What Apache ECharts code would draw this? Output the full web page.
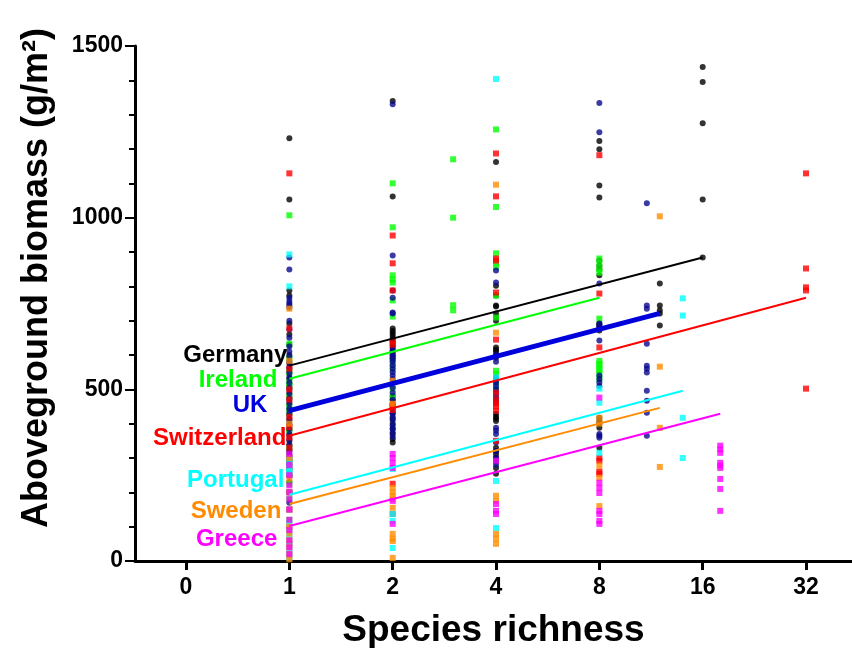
<!DOCTYPE html>
<html>
<head>
<meta charset="utf-8">
<script src="https://cdn.jsdelivr.net/npm/echarts@6/dist/echarts.min.js"></script>
<style>html,body{margin:0;padding:0;background:#fff}#c{width:852px;height:648px}</style>
</head>
<body>
<div id="c"></div>
<script>
// x tick values (0 is shown at 0.5 on the log2 axis)
const xTicks = [0.5, 1, 2, 4, 8, 16, 32];
const xTickLabels = ['0', '1', '2', '4', '8', '16', '32'];
const yTicks = [0, 500, 1000, 1500];

const countries = ['Germany', 'Ireland', 'UK', 'Switzerland', 'Portugal', 'Sweden', 'Greece'];

// plot biomass values, grouped by species richness: [richness, [values]]
const germanyPts = [
  [1, [1231, 1053, 788, 773, 692, 660, 630, 600, 575, 560, 545, 530, 515, 500, 485, 470, 455, 440, 425, 410, 395, 380, 365, 350, 335, 320, 305, 290, 270, 250, 230, 200]],
  [2, [1340, 1062, 677, 670, 663, 656, 648, 640, 630, 622, 610, 600, 590, 480, 470, 455, 430, 415, 400, 385, 370, 355, 345]],
  [4, [1162, 802, 773, 744, 741, 721, 710, 700, 622, 615, 610, 600, 592, 429, 420, 415, 408, 330, 320, 310, 300, 290, 271, 254]],
  [8, [1223, 1199, 1094, 1059, 875, 860, 850, 832, 692, 686, 680, 671, 417, 408, 400, 388, 330]],
  [12, [808, 744, 730, 721, 686]],
  [16, [1439, 1395, 1275, 1053, 884]]
];
const irelandPts = [
  [1, [1007, 633, 590, 550, 520, 510, 480, 450, 430, 380, 330, 290, 260, 225, 180, 120]],
  [2, [1100, 972, 832, 820, 811, 759, 712, 589, 575, 560, 502, 480]],
  [3, [1170, 1000, 745, 730]],
  [4, [1257, 1031, 896, 867, 855, 773, 709, 554, 545, 520, 500, 470]],
  [8, [881, 867, 850, 840, 706, 583, 575, 570, 560, 555, 545, 530]]
];
const ukPts = [
  [1, [884, 849, 767, 757, 750, 744, 738, 700, 675, 650, 625, 610, 595, 580, 565, 550, 535, 520, 505, 490, 475, 460, 445, 430, 415, 400, 385, 370, 355, 340, 325, 310, 295, 280, 265, 250, 200, 170]],
  [2, [1330, 890, 788, 767, 724, 721, 615, 610, 600, 595, 588, 580, 570, 560, 550, 540, 530, 520, 505, 490, 470, 455, 440, 430, 420, 410, 395, 385, 375, 362]],
  [4, [846, 811, 600, 580, 534, 527, 520, 510, 500, 490, 480, 470, 460, 388, 380, 370, 345, 320, 300, 280]],
  [8, [1334, 1249, 808, 692, 685, 642, 540, 530, 520, 510, 370, 365, 359]],
  [11, [1042, 744, 735, 633, 569, 560, 549, 496, 467, 432, 365]]
];
const switzerlandPts = [
  [1, [1129, 677, 560, 500, 470, 420, 390, 360, 330, 300, 275, 250, 200, 150, 100, 50]],
  [2, [948, 867, 788, 640, 630, 455, 450, 440, 225, 137]],
  [4, [1187, 1062, 881, 875, 782, 645, 490, 470, 458, 450, 438, 350]],
  [8, [1182, 779, 622, 300, 292, 260, 254]],
  [32, [1129, 852, 797, 788, 502]]
];
const portugalPts = [
  [1, [893, 800, 300, 285, 270, 260, 250, 200, 150, 110, 90, 75, 60, 45, 30, 20, 10]],
  [2, [268, 137, 117, 38]],
  [4, [1404, 534, 233, 96]],
  [8, [502, 461, 315]],
  [14, [765, 715, 417, 300]]
];
const swedenPts = [
  [1, [735, 583, 400, 300, 240, 200, 150, 100, 80, 60, 40, 20, 5]],
  [2, [525, 458, 213, 200, 190, 180, 155, 79, 65, 58, 9]],
  [4, [1096, 665, 190, 175, 79, 65, 50]],
  [8, [417, 400, 277, 242, 160]],
  [12, [1004, 566, 388, 274]]
];
const greecePts = [
  [1, [312, 280, 250, 220, 200, 180, 150, 120, 90, 60, 40, 20]],
  [2, [312, 300, 285, 271, 175, 108]],
  [4, [292, 166, 146, 137]],
  [8, [476, 228, 213, 198, 146, 137, 117, 108]],
  [18, [336, 325, 315, 286, 278, 271, 239, 210, 146]]
];

// fitted regression lines: [[richness, biomass], [richness, biomass]]
const germanyLine = [[1, 569], [16, 884]];
const irelandLine = [[1, 531], [8, 767]];
const ukLine = [[1, 438], [12, 721]];
const switzerlandLine = [[1, 365], [32, 767]];
const portugalLine = [[1, 193], [14, 496]];
const swedenLine = [[1, 166], [12, 446]];
const greeceLine = [[1, 102], [18, 429]];

const pointColors = ['#000000', '#00ff00', '#0a0a90', '#ff0000', '#00ffff', '#ff8c00', '#ff00ff'];
const lineColors = ['#000000', '#00ff00', '#0000dd', '#ff0000', '#00ffff', '#ff8c00', '#ff00ff'];
const allPts = [germanyPts, irelandPts, ukPts, switzerlandPts, portugalPts, swedenPts, greecePts];
const allLines = [germanyLine, irelandLine, ukLine, switzerlandLine, portugalLine, swedenLine, greeceLine];
const labelOffsets = [[-2, -10], [-12, 2], [-22, -5], [-3, 3], [-5, -14], [-8, 7], [-12, 13]];
const lineWidths = [2, 2, 5, 2, 2, 2, 2];
const symbols = ['circle', 'rect', 'circle', 'rect', 'rect', 'rect', 'rect'];

const series = [];
countries.forEach((name, i) => {
  const data = [];
  allPts[i].forEach(([s, vals]) => vals.forEach(v => data.push([s, v])));
  series.push({
    type: 'scatter', name: name, data: data,
    symbol: symbols[i], symbolSize: 6,
    itemStyle: { color: pointColors[i] }, z: 2
  });
});
countries.forEach((name, i) => {
  const ln = allLines[i];
  series.push({
    type: 'line', name: name + ' fit', symbol: 'circle', symbolSize: 0.01, showSymbol: true, showAllSymbol: true, z: 3,
    itemStyle: { color: lineColors[i] },
    lineStyle: { color: lineColors[i], width: lineWidths[i] },
    data: [
      { value: ln[0], label: { show: true, position: 'left', distance: 0, formatter: name,
        color: lineColors[i], fontFamily: 'Liberation Sans', fontWeight: 'bold', fontSize: 24 } },
      { value: ln[1] }
    ],
    labelLayout: { hideOverlap: false, dx: labelOffsets[i][0], dy: labelOffsets[i][1] }
  });
});

const chart = echarts.init(document.getElementById('c'), null, { renderer: 'canvas' });
chart.setOption({
  animation: false,
  backgroundColor: '#ffffff',
  grid: { left: 135, right: 0, top: 46, bottom: 87, containLabel: false, outerBoundsMode: 'none' },
  xAxis: {
    type: 'log', logBase: 2, min: 0.3551, max: 43.56,
    axisLine: { show: true, lineStyle: { color: '#000', width: 3 } },
    axisTick: { show: true, length: 9, customValues: xTicks, lineStyle: { color: '#000', width: 3 } },
    axisLabel: { customValues: xTicks, margin: 15, color: '#000', fontFamily: 'Liberation Sans', fontWeight: 'bold', fontSize: 23,
      formatter: v => xTickLabels[xTicks.indexOf(v)] ?? '' },
    splitLine: { show: false }, minorTick: { show: false },
    name: 'Species richness', nameLocation: 'middle', nameGap: 51,
    nameTextStyle: { color: '#000', fontFamily: 'Liberation Sans', fontWeight: 'bold', fontSize: 37 }
  },
  yAxis: {
    type: 'value', min: 0, max: 1500, interval: 500,
    axisLine: { show: true, lineStyle: { color: '#000', width: 3 } },
    axisTick: { show: true, length: 10, lineStyle: { color: '#000', width: 2 } },
    minorTick: { show: true, splitNumber: 5, length: 6, lineStyle: { color: '#000', width: 2 } },
    axisLabel: { margin: 12, color: '#000', fontFamily: 'Liberation Sans', fontWeight: 'bold', fontSize: 23,
      formatter: v => (yTicks.includes(v) ? String(v) : '') },
    splitLine: { show: false }
  },
  graphic: [{
    type: 'text', left: 19, top: 28, rotation: Math.PI / 2,
    style: { text: 'Aboveground biomass (g/m²)', fill: '#000', font: 'bold 36px "Liberation Sans"' }
  }],
  series: series
});
</script>
</body>
</html>
